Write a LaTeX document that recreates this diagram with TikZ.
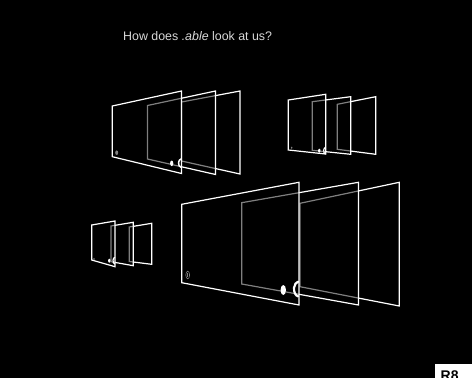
\documentclass[tikz,border=0pt]{standalone}
\usepackage{fontspec}
\setmainfont{Liberation Sans}
\definecolor{titlegray}{HTML}{D8D8D8}
\definecolor{icongray}{HTML}{808080}
\newcommand\pnl[4]{\draw[panel] #1 -- #2 -- #3 -- #4 -- cycle;}
\begin{document}
\begin{tikzpicture}[x=1pt,y=-1pt,
  panel/.style={draw=white, line width=1.2pt, fill=black, fill opacity=0.5, line join=miter},
  dotmark/.style={fill=white},
  arcmark/.style={draw=white, line cap=round},
  iconmark/.style={draw=icongray, line width=0.6pt}]
\fill[black] (0,0) rectangle (472,378);
\useasboundingbox (0,0) rectangle (472,378);
% title
\node[anchor=west, inner sep=0pt, text=titlegray, font=\fontsize{12.4}{14}\selectfont] (title) at (123,36) {How does \textit{.able} look at us?};
% ---------- top-left group ----------
\pnl{(181.5,102)}{(240,91)}{(240,174)}{(181.5,161)}
\pnl{(147.5,105.5)}{(215.5,91)}{(215.5,174.5)}{(147.5,159)}
\pnl{(112.3,106)}{(181.5,91)}{(181.5,173.5)}{(112.3,156.7)}
\fill[dotmark] (171.7,163.3) ellipse [x radius=1.6, y radius=2.8];
\draw[arcmark, line width=1.5pt] (181.5,163.2) ++(100:3 and 4.2) arc[start angle=100, end angle=260, x radius=3, y radius=4.2];
\fill[icongray] (116.7,152.7) ellipse [x radius=1.5, y radius=2.3];
% ---------- top-right group ----------
\pnl{(337.3,104.3)}{(375.7,96.7)}{(375.7,154.3)}{(337.3,149.3)}
\pnl{(312.3,101.7)}{(350.7,96.7)}{(350.7,154.3)}{(312.3,150.3)}
\pnl{(288.3,100)}{(325.7,94.3)}{(325.7,154)}{(288.3,150)}
\fill[dotmark] (319.3,150.7) ellipse [x radius=1.2, y radius=2];
\draw[arcmark, line width=1.2pt] (325.7,150.7) ++(100:2 and 3.3) arc[start angle=100, end angle=260, x radius=2, y radius=3.3];
\fill[icongray] (291.7,147.7) ellipse [x radius=0.8, y radius=1.2];
% ---------- bottom-left group ----------
\pnl{(129.3,227)}{(151.7,223.3)}{(151.7,264.3)}{(129.3,261.5)}
\pnl{(111,226)}{(133.3,222.3)}{(133.3,265.7)}{(111,261.7)}
\pnl{(91.7,225)}{(115,221)}{(115,266.7)}{(91.7,260)}
\fill[dotmark] (109.3,260.7) ellipse [x radius=1.2, y radius=2];
\draw[arcmark, line width=1.2pt] (115,260.7) ++(100:2 and 3.3) arc[start angle=100, end angle=260, x radius=2, y radius=3.3];
\fill[icongray] (94,259) ellipse [x radius=0.8, y radius=1.2];
% ---------- large group ----------
\pnl{(300,203.3)}{(399.3,182.3)}{(399.3,306)}{(300,286.7)}
\pnl{(241.7,202.7)}{(358.5,182.3)}{(358.5,305)}{(241.7,284)}
\pnl{(181.7,204.3)}{(299,182.3)}{(299,305)}{(181.7,282.7)}
\fill[dotmark] (283.3,290) ellipse [x radius=2.7, y radius=5];
\draw[arcmark, line width=2.2pt] (299,289) ++(100:5 and 7.5) arc[start angle=100, end angle=260, x radius=5, y radius=7.5];
\draw[iconmark] (187.7,275) ellipse [x radius=1.9, y radius=3.8];
\draw[iconmark, line width=0.5pt] (187.7,273) -- (187.7,277);
% ---------- corner label ----------
\begin{scope}
\clip (435,364) rectangle (472,378);
\fill[white] (435,364) rectangle (472,378);
\node[anchor=base west, inner sep=0pt, font=\fontsize{14}{16}\selectfont\bfseries, text=black] (tag) at (440.5,380.8) {R8};
\end{scope}
\end{tikzpicture}
\end{document}
